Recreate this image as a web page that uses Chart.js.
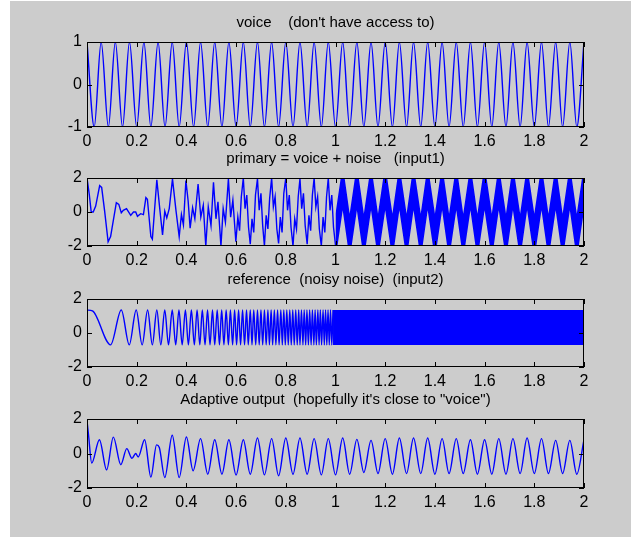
<!DOCTYPE html>
<html>
<head>
<meta charset="utf-8">
<script src="https://cdn.jsdelivr.net/npm/chart.js@4.4.1/dist/chart.umd.min.js"></script>
<style>
  html, body { margin: 0; padding: 0; background: #fff; }
  body { width: 631px; height: 537px; position: relative; overflow: hidden; }
  #fig { position: absolute; left: 10px; top: 1px; width: 621px; height: 536px; background: #cccccc; }
  #fig canvas { position: absolute; left: 0; }
</style>
</head>
<body>
<div id="fig">
  <canvas id="voiceChart" width="621" height="145" style="top:11px"></canvas>
  <canvas id="primaryChart" width="621" height="128" style="top:147px"></canvas>
  <canvas id="referenceChart" width="621" height="128" style="top:268px"></canvas>
  <canvas id="outputChart" width="621" height="129" style="top:388px"></canvas>
</div>
<script>
// voice: peaks and troughs of the clean tone
var tVoice = [0, 0.029, 0.057, 0.086, 0.114, 0.143, 0.171, 0.200, 0.229, 0.257,
  0.286, 0.314, 0.343, 0.371, 0.400, 0.429, 0.457, 0.486, 0.514, 0.543,
  0.571, 0.600, 0.629, 0.657, 0.686, 0.714, 0.743, 0.771, 0.800, 0.829,
  0.857, 0.886, 0.914, 0.943, 0.971, 1.000, 1.029, 1.057, 1.086, 1.114,
  1.143, 1.171, 1.200, 1.229, 1.257, 1.286, 1.314, 1.343, 1.371, 1.400,
  1.429, 1.457, 1.486, 1.514, 1.543, 1.571, 1.600, 1.629, 1.657, 1.686,
  1.714, 1.743, 1.771, 1.800, 1.829, 1.857, 1.886, 1.914, 1.943, 1.971, 2.000];
var voice = [1, -1, 1, -1, 1, -1, 1, -1, 1, -1,
  1, -1, 1, -1, 1, -1, 1, -1, 1, -1,
  1, -1, 1, -1, 1, -1, 1, -1, 1, -1,
  1, -1, 1, -1, 1, -1, 1, -1, 1, -1,
  1, -1, 1, -1, 1, -1, 1, -1, 1, -1,
  1, -1, 1, -1, 1, -1, 1, -1, 1, -1,
  1, -1, 1, -1, 1, -1, 1, -1, 1, -1, 1];

// primary: readable part up to t=1, then the dense band that follows the voice
var tPri = [0, 0.009, 0.017, 0.025, 0.035, 0.051, 0.059, 0.071, 0.085, 0.095,
  0.118, 0.128, 0.138, 0.146, 0.159, 0.176, 0.187, 0.196, 0.203, 0.216, 0.227,
  0.237, 0.243, 0.257, 0.263, 0.281, 0.292, 0.304, 0.313, 0.321, 0.331,
  0.344, 0.358, 0.371, 0.380, 0.388, 0.398, 0.407, 0.415, 0.425, 0.434,
  0.447, 0.458, 0.468, 0.478, 0.488, 0.499, 0.509, 0.519, 0.527, 0.539,
  0.548, 0.557, 0.569, 0.578, 0.587, 0.599,
  0.607, 0.614, 0.621, 0.629, 0.636, 0.643, 0.650, 0.657,
  0.664, 0.671, 0.678, 0.686, 0.693, 0.700, 0.707, 0.714,
  0.721, 0.728, 0.735, 0.743, 0.750, 0.757, 0.764, 0.771,
  0.778, 0.785, 0.792, 0.800, 0.807, 0.814, 0.821, 0.829,
  0.836, 0.843, 0.850, 0.857, 0.864, 0.871, 0.878, 0.886,
  0.893, 0.900, 0.907, 0.914, 0.921, 0.928, 0.935, 0.943,
  0.950, 0.957, 0.964, 0.971, 0.978, 0.985, 0.992, 1.000];
var pri = [2.0, 1.05, 0.0, 0.0, 0.35, 1.55, 1.45, 0.05, -1.75, -1.45,
  0.55, 0.45, -0.05, 0.1, 0.2, -0.2, 0.0, 0.0, -0.25, -0.1, -0.15,
  0.85, 0.75, -1.45, -1.6, 1.9, 0.3, -1.35, 0.05, -0.35, 0.2,
  1.95, 0.1, -1.45, -0.15, -0.75, 1.85, 0.65, -0.95, 0.25, -0.4,
  1.65, -0.3, 0.4, -2.0, 0.3, -0.8, 1.75, -0.4, 0.6, -2.0,
  0.2, -0.6, 1.95, -0.3, 0.7, -1.75,
  -0.3, -1.1, 0.9, 2.0, 0.2, 1.0, -0.9, -1.9,
  -0.4, -1.2, 1.0, 1.95, 0.1, 1.1, -0.8, -2.0,
  -0.2, -1.0, 0.8, 2.0, 0.3, 0.9, -1.0, -1.85,
  -0.3, -1.2, 1.1, 2.0, 0.1, 1.0, -0.9, -2.0,
  -0.4, -1.0, 0.9, 1.95, 0.2, 1.1, -0.8, -1.9,
  -0.2, -1.1, 1.0, 2.0, 0.3, 0.9, -1.0, -2.0,
  -0.3, -1.2, 0.9, 2.0, 0.1, 1.0, -0.9, -1.95];
var tPriBand = [1.000, 1.029, 1.057, 1.086, 1.114, 1.143,
  1.171, 1.200, 1.229, 1.257, 1.286, 1.314, 1.343, 1.371, 1.400, 1.429,
  1.457, 1.486, 1.514, 1.543, 1.571, 1.600, 1.629, 1.657, 1.686, 1.714,
  1.743, 1.771, 1.800, 1.829, 1.857, 1.886, 1.914, 1.943, 1.971, 2.000];
var priHi = [-0.1, 2.8, -0.1, 2.8, -0.1, 2.8,
  -0.1, 2.8, -0.1, 2.8, -0.1, 2.8, -0.1, 2.8, -0.1, 2.8,
  -0.1, 2.8, -0.1, 2.8, -0.1, 2.8, -0.1, 2.8, -0.1, 2.8,
  -0.1, 2.8, -0.1, 2.8, -0.1, 2.8, -0.1, 2.8, -0.1, 2.8];
var priLo = [-2.8, 0.1, -2.8, 0.1, -2.8, 0.1,
  -2.8, 0.1, -2.8, 0.1, -2.8, 0.1, -2.8, 0.1, -2.8, 0.1,
  -2.8, 0.1, -2.8, 0.1, -2.8, 0.1, -2.8, 0.1, -2.8, 0.1,
  -2.8, 0.1, -2.8, 0.1, -2.8, 0.1, -2.8, 0.1, -2.8, 0.1];

// reference: chirp extremes while they can still be told apart, then a solid band
var tRef = [0, 0.022, 0.095, 0.138, 0.170, 0.198, 0.222, 0.244, 0.263, 0.281,
  0.297, 0.313, 0.328, 0.343, 0.357, 0.370, 0.383, 0.396, 0.408, 0.420,
  0.432, 0.443, 0.454, 0.464, 0.475, 0.485, 0.495, 0.505, 0.514, 0.524,
  0.533, 0.542, 0.551, 0.560, 0.569, 0.577, 0.586, 0.594, 0.602, 0.610,
  0.618, 0.626, 0.634, 0.642, 0.649, 0.657, 0.664, 0.671, 0.679, 0.686,
  0.693, 0.700, 0.707, 0.714, 0.721, 0.728, 0.734, 0.741, 0.747, 0.754,
  0.760, 0.767, 0.773, 0.780, 0.786, 0.792, 0.798, 0.804, 0.810, 0.816,
  0.822, 0.828, 0.834, 0.840, 0.846, 0.852, 0.857, 0.863, 0.869, 0.874,
  0.880, 0.885, 0.891, 0.896, 0.902, 0.907, 0.913, 0.918, 0.923, 0.929,
  0.934, 0.939, 0.944, 0.950, 0.955, 0.960, 0.965, 0.970, 0.975, 0.980,
  0.985, 0.990];
var ref = [1.35, 1.3, -0.7, 1.35, -0.7, 1.35, -0.7, 1.35, -0.7, 1.35,
  -0.7, 1.35, -0.7, 1.35, -0.7, 1.35, -0.7, 1.35, -0.7, 1.35,
  -0.7, 1.35, -0.7, 1.35, -0.7, 1.35, -0.7, 1.35, -0.7, 1.35,
  -0.7, 1.35, -0.7, 1.35, -0.7, 1.35, -0.7, 1.35, -0.7, 1.35,
  -0.7, 1.35, -0.7, 1.35, -0.7, 1.35, -0.7, 1.35, -0.7, 1.35,
  -0.7, 1.35, -0.7, 1.35, -0.7, 1.35, -0.7, 1.35, -0.7, 1.35,
  -0.7, 1.35, -0.7, 1.35, -0.7, 1.35, -0.7, 1.35, -0.7, 1.35,
  -0.7, 1.35, -0.7, 1.35, -0.7, 1.35, -0.7, 1.35, -0.7, 1.35,
  -0.7, 1.35, -0.7, 1.35, -0.7, 1.35, -0.7, 1.35, -0.7, 1.35,
  -0.7, 1.35, -0.7, 1.35, -0.7, 1.35, -0.7, 1.35, -0.7, 1.35,
  -0.7, 1.35];
var tRefBand = [0.990, 2.000];
var refHi = [1.35, 1.35];
var refLo = [-0.7, -0.7];

// adaptive output
var tOut = [0, 0.006, 0.019, 0.050, 0.079, 0.106, 0.136, 0.160, 0.181, 0.196,
  0.206, 0.232, 0.257, 0.280, 0.291, 0.313, 0.343, 0.371, 0.400, 0.427,
  0.457, 0.486, 0.514, 0.543, 0.571, 0.600, 0.629, 0.657, 0.686, 0.714,
  0.743, 0.771, 0.800, 0.829, 0.857, 0.886, 0.914, 0.943, 0.971, 1.000,
  1.029, 1.057, 1.086, 1.114, 1.143, 1.171, 1.200, 1.229, 1.257, 1.286,
  1.314, 1.343, 1.371, 1.400, 1.429, 1.457, 1.486, 1.514, 1.543, 1.571,
  1.600, 1.629, 1.657, 1.686, 1.714, 1.743, 1.771, 1.800, 1.829, 1.857,
  1.886, 1.914, 1.943, 1.971, 2.000];
var out = [1.9, 1.1, -0.55, 0.8, -0.95, 0.95, -0.65, 0.28, -0.28, 0.0,
  -0.2, 0.8, -1.37, 0.5, 0.35, -1.39, 1.06, -1.39, 0.96, -1.0,
  0.86, -1.2, 0.8, -1.2, 0.8, -1.24, 0.8, -1.2, 0.9, -1.24,
  0.86, -1.29, 0.9, -1.2, 0.9, -1.2, 0.86, -1.24, 0.86, -1.24,
  0.9, -1.2, 0.82, -1.1, 0.76, -1.16, 0.86, -1.2, 0.9, -1.16,
  0.9, -1.16, 0.9, -1.2, 0.86, -1.16, 0.86, -1.16, 0.8, -1.2,
  0.8, -1.2, 0.86, -1.2, 0.86, -1.16, 0.9, -1.16, 0.86, -1.16,
  0.76, -1.16, 0.76, -1.2, 0.8];

var xTicks = { min: 0, max: 2, step: 0.2 };
var BLUE = '#0000ff';

Chart.defaults.font.family = '"Liberation Sans", Arial, sans-serif';
Chart.defaults.color = '#000';

function pts(xs, ys) {
  return xs.map(function (x, i) { return { x: x, y: ys[i] }; });
}

function fmt(v) {
  return String(Math.round(v * 10) / 10);
}

// matlab style box with inward ticks on all four sides
var matlabAxes = {
  id: 'matlabAxes',
  afterDatasetsDraw: function (chart) {
    var ctx = chart.ctx, a = chart.chartArea;
    var xs = chart.scales.x, ys = chart.scales.y;
    ctx.save();
    ctx.strokeStyle = '#000';
    ctx.lineWidth = 1;
    ctx.strokeRect(a.left + 0.5, a.top + 0.5, a.width - 1, a.height - 1);
    ctx.beginPath();
    xs.ticks.forEach(function (t) {
      var px = Math.round(xs.getPixelForValue(t.value)) + 0.5;
      ctx.moveTo(px, a.top); ctx.lineTo(px, a.top + 5);
      ctx.moveTo(px, a.bottom); ctx.lineTo(px, a.bottom - 5);
    });
    ys.ticks.forEach(function (t) {
      var py = Math.round(ys.getPixelForValue(t.value)) + 0.5;
      ctx.moveTo(a.left, py); ctx.lineTo(a.left + 5, py);
      ctx.moveTo(a.right, py); ctx.lineTo(a.right - 5, py);
    });
    ctx.stroke();
    ctx.restore();
  }
};

function line(data, smooth) {
  return {
    data: data,
    borderColor: BLUE,
    borderWidth: 1.4,
    pointRadius: 0,
    fill: false,
    cubicInterpolationMode: smooth ? 'monotone' : 'default'
  };
}

function band(lo, hi, color) {
  return [
    { data: lo, borderWidth: 0, pointRadius: 0, fill: false },
    { data: hi, borderWidth: 0, pointRadius: 0, fill: '-1', backgroundColor: color }
  ];
}

function panel(id, title, yMin, yMax, yStep, datasets) {
  return new Chart(document.getElementById(id), {
    type: 'line',
    data: { datasets: datasets },
    options: {
      responsive: false,
      animation: false,
      events: [],
      layout: { padding: { left: 0, right: 47, top: 0, bottom: 0 } },
      plugins: {
        legend: { display: false },
        tooltip: { enabled: false },
        title: {
          display: true,
          text: title,
          fullSize: false,
          color: '#000',
          font: { size: 15, weight: 'normal' },
          padding: { top: 2, bottom: 10 }
        }
      },
      scales: {
        x: {
          type: 'linear',
          min: xTicks.min,
          max: xTicks.max,
          ticks: { stepSize: xTicks.step, padding: 5, font: { size: 16 }, callback: fmt, maxRotation: 0, autoSkip: false },
          grid: { display: false, drawTicks: false },
          border: { display: false },
          afterFit: function (s) { s.height = 30; }
        },
        y: {
          min: yMin,
          max: yMax,
          ticks: { stepSize: yStep, padding: 5, font: { size: 16 }, callback: fmt },
          grid: { display: false, drawTicks: false },
          border: { display: false },
          afterFit: function (s) { s.width = 77; }
        }
      }
    },
    plugins: [matlabAxes]
  });
}

panel('voiceChart', "voice    (don't have access to)", -1, 1, 1,
  [line(pts(tVoice, voice), true)]);

panel('primaryChart', 'primary = voice + noise   (input1)', -2, 2, 2,
  [line(pts(tPri, pri), false)].concat(band(pts(tPriBand, priLo), pts(tPriBand, priHi), BLUE)));

panel('referenceChart', 'reference  (noisy noise)  (input2)', -2, 2, 2,
  [line(pts(tRef, ref), true)].concat(band(pts(tRefBand, refLo), pts(tRefBand, refHi), BLUE)));

panel('outputChart', 'Adaptive output  (hopefully it\'s close to "voice")', -2, 2, 2,
  [line(pts(tOut, out), true)]);
</script>
</body>
</html>
